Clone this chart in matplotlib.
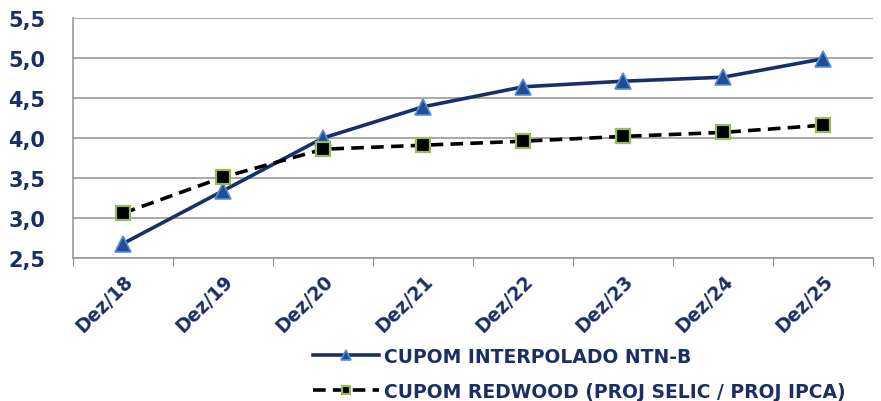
import matplotlib
matplotlib.use("Agg")
import matplotlib.pyplot as plt

categories = ["Dez/18", "Dez/19", "Dez/20", "Dez/21", "Dez/22", "Dez/23", "Dez/24", "Dez/25"]
ntnb = [2.68, 3.34, 4.00, 4.39, 4.64, 4.71, 4.76, 4.99]
redwood = [3.06, 3.51, 3.86, 3.91, 3.96, 4.02, 4.07, 4.16]
y_ticks = [2.5, 3.0, 3.5, 4.0, 4.5, 5.0, 5.5]
y_tick_labels = ["2,5", "3,0", "3,5", "4,0", "4,5", "5,0", "5,5"]
label_ntnb = "CUPOM INTERPOLADO NTN-B"
label_redwood = "CUPOM REDWOOD (PROJ SELIC / PROJ IPCA)"

navy = "#16306b"
text_color = "#1b2f66"
plt.rcParams["font.family"] = ["DejaVu Sans"]
plt.rcParams["font.weight"] = "bold"

fig = plt.figure(figsize=(8.81, 4.02), dpi=100)
ax = fig.add_axes([0.0829, 0.3557, 0.908, 0.597])

x = list(range(len(categories)))
ax.plot(x, ntnb, color=navy, lw=2.6, marker="^", markersize=11,
        markerfacecolor="#1f4e96", markeredgecolor="#5b8ed0", markeredgewidth=1.2,
        label=label_ntnb, zorder=3)
ax.plot(x, redwood, color="black", lw=2.6, ls=(0, (3.5, 2)), marker="s", markersize=10,
        markerfacecolor="black", markeredgecolor="#9bbb59", markeredgewidth=1.6,
        label=label_redwood, zorder=3)

ax.set_xlim(-0.5, len(categories) - 0.5)
ax.set_ylim(2.5, 5.5)
ax.set_yticks(y_ticks)
ax.set_yticklabels(y_tick_labels, fontsize=15, color=text_color, fontweight="bold")
ax.set_xticks([i - 0.5 for i in range(len(categories) + 1)])
ax.set_xticklabels([])
ax.set_xticks(x, minor=True)
ax.set_xticklabels(categories, minor=True, rotation=45, ha="right", va="top",
                   rotation_mode="anchor", fontsize=13.5, color=text_color, fontweight="bold")
ax.tick_params(axis="x", which="minor", length=0, pad=9)
ax.tick_params(axis="x", which="major", length=6, color="#888888", direction="out")
ax.tick_params(axis="y", length=0, pad=20)

ax.grid(axis="y", color="#9a9a9a", lw=1.2)
ax.set_axisbelow(True)
for s in ["top", "right"]:
    ax.spines[s].set_visible(False)
for s in ["left", "bottom"]:
    ax.spines[s].set_color("#9a9a9a")
    ax.spines[s].set_linewidth(1.2)

leg = fig.legend(loc="upper left", frameon=False,
                 fontsize=13.5, handlelength=3.5, handletextpad=0.25, labelspacing=0.85,
                 markerscale=0.6, borderpad=0)
leg.set_bbox_to_anchor((0.345, 0.158), transform=fig.transFigure)
for t in leg.get_texts():
    t.set_color(text_color)
    t.set_fontweight("bold")

fig.savefig("out.png", dpi=100)
